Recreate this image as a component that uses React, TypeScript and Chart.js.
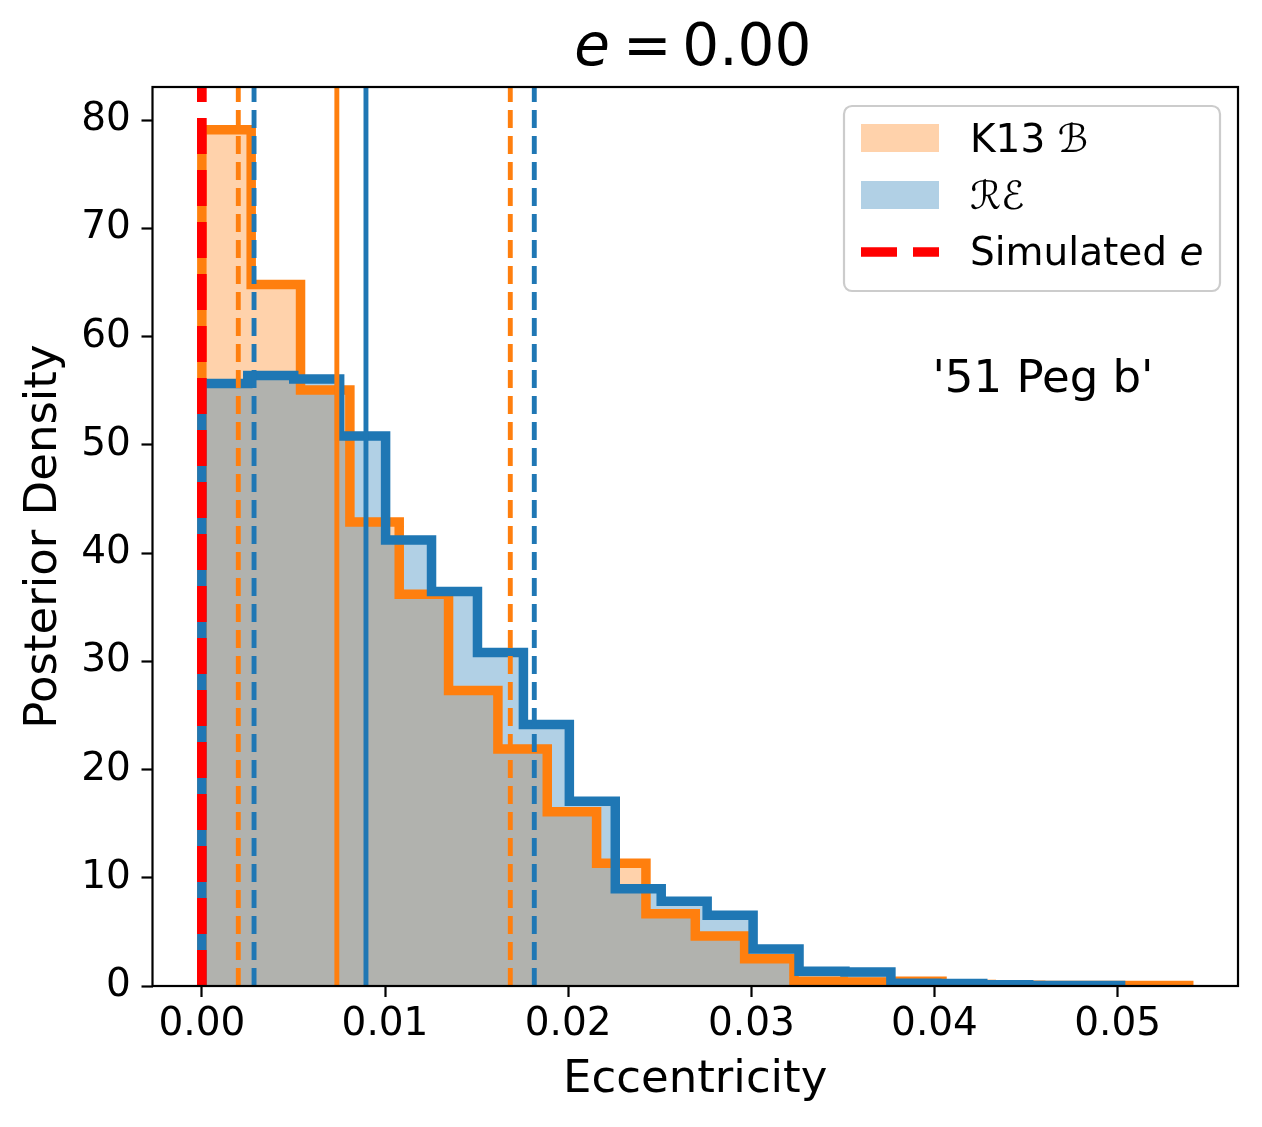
import { useEffect, useRef } from "react";
import { Chart, ChartConfiguration, Plugin, registerables } from "chart.js";

Chart.register(...registerables);

// K13 beta prior posterior: bin edges and density
const k13Edges = [
  0, 0.002694, 0.005388, 0.008082, 0.010776, 0.01347, 0.016164, 0.018858, 0.021552, 0.024246,
  0.02694, 0.029634, 0.032328, 0.035022, 0.037716, 0.04041, 0.043104, 0.045798, 0.048492,
  0.051186, 0.05388,
];
const k13Density = [
  79.1, 64.8, 55.06, 42.86, 36.2, 27.3, 21.9, 16.1, 11.33, 6.68, 4.62, 2.52, 0.43, 0.37, 0.43,
  0.15, 0.06, 0.05, 0.04, 0.04,
];

// RE prior posterior
const reEdges = [
  0, 0.002508, 0.005016, 0.007524, 0.010032, 0.01254, 0.015048, 0.017556, 0.020064, 0.022572,
  0.02508, 0.027588, 0.030096, 0.032604, 0.035112, 0.03762, 0.040128, 0.042636, 0.045144,
  0.047652, 0.05016,
];
const reDensity = [
  55.67, 56.4, 56.07, 50.8, 41.2, 36.45, 30.8, 24.15, 17.06, 8.99, 7.82, 6.53, 3.42, 1.36, 1.3,
  0.25, 0.22, 0.12, 0.04, 0.04,
];

// medians and 68% bounds
const k13Stats = [0.00199, 0.00737, 0.01684]; // lower, median, upper
const reStats = [0.00285, 0.00896, 0.01815];
const simulatedE = 0.0;

const xTicks = [0, 0.01, 0.02, 0.03, 0.04, 0.05];
const yTicks = [0, 10, 20, 30, 40, 50, 60, 70, 80];
const X_MIN = -0.002694;
const X_MAX = 0.05657;
const Y_MAX = 83.05;

const ORANGE = "#ff7f0e";
const BLUE = "#1f77b4";
const ORANGE_FILL = "rgba(255, 127, 14, 0.35)";
const BLUE_FILL = "rgba(31, 119, 180, 0.35)";
const FONT = "'DejaVu Sans'";

function stepPoints(edges: number[], density: number[]) {
  const pts = [{ x: edges[0], y: 0 }];
  density.forEach((d, i) => pts.push({ x: edges[i], y: d }));
  const last = edges[edges.length - 1];
  pts.push({ x: last, y: density[density.length - 1] });
  pts.push({ x: last, y: 0 });
  return pts;
}

function vline(x: number) {
  return [
    { x, y: 0 },
    { x, y: Y_MAX },
  ];
}

// title, frame, legend and the planet label
const decorPlugin: Plugin = {
  id: "decor",
  afterDatasetsDraw(chart) {
    const { ctx, chartArea } = chart;
    ctx.save();
    ctx.strokeStyle = "#000";
    ctx.lineWidth = 2.2;
    ctx.strokeRect(chartArea.left, chartArea.top, chartArea.right - chartArea.left, chartArea.bottom - chartArea.top);
    ctx.restore();
  },
  afterDraw(chart) {
    const { ctx, chartArea } = chart;
    const cx = (chartArea.left + chartArea.right) / 2;
    ctx.save();
    ctx.fillStyle = "#000";
    ctx.textBaseline = "alphabetic";

    // title: e = 0.00
    const ty = chartArea.top - 22;
    ctx.font = `italic 58px ${FONT}`;
    ctx.textAlign = "left";
    ctx.fillText("e", cx - 121, ty);
    ctx.font = `58px ${FONT}`;
    ctx.textAlign = "center";
    ctx.fillText("=", cx - 48, ty);
    ctx.textAlign = "left";
    ctx.fillText("0.00", cx - 13, ty);

    // planet label
    ctx.font = `45px ${FONT}`;
    ctx.fillText("'51 Peg b'", chartArea.left + 780, chartArea.top + 305);

    // legend
    const bx = chartArea.right - 394;
    const by = chartArea.top + 19;
    const bw = 376;
    const bh = 185;
    ctx.beginPath();
    ctx.roundRect(bx, by, bw, bh, 8);
    ctx.fillStyle = "rgba(255,255,255,0.8)";
    ctx.fill();
    ctx.strokeStyle = "#cccccc";
    ctx.lineWidth = 2.2;
    ctx.stroke();

    const hx = bx + 17;
    const hw = 78;
    const rows = [by + 32, by + 89, by + 146];
    ctx.fillStyle = ORANGE_FILL;
    ctx.fillRect(hx, rows[0] - 14, hw, 28);
    ctx.fillStyle = BLUE_FILL;
    ctx.fillRect(hx, rows[1] - 14, hw, 28);
    ctx.beginPath();
    ctx.setLineDash([36, 16]);
    ctx.strokeStyle = "#ff0000";
    ctx.lineWidth = 9.7;
    ctx.moveTo(hx, rows[2]);
    ctx.lineTo(hx + hw, rows[2]);
    ctx.stroke();
    ctx.setLineDash([]);

    const tx = bx + 126;
    ctx.fillStyle = "#000";
    ctx.font = `39px ${FONT}`;
    ctx.fillText("K13 ", tx, rows[0] + 14);
    const k13w = ctx.measureText("K13 ").width;
    ctx.font = `italic 39px ${FONT}`;
    ctx.fillText("\u212C", tx + k13w, rows[0] + 14);
    ctx.fillText("\u211B\u2130", tx, rows[1] + 14);
    ctx.font = `39px ${FONT}`;
    ctx.fillText("Simulated ", tx, rows[2] + 13);
    const simw = ctx.measureText("Simulated ").width;
    ctx.font = `italic 39px ${FONT}`;
    ctx.fillText("e", tx + simw, rows[2] + 13);
    ctx.restore();
  },
};

export default function App() {
  const canvasRef = useRef<HTMLCanvasElement>(null);
  const chartRef = useRef<Chart | null>(null);

  useEffect(() => {
    if (!canvasRef.current) return;
    Chart.defaults.font.family = FONT;
    Chart.defaults.color = "#000";

    const base = { pointRadius: 0, fill: false, clip: 0, stepped: "before" as const };

    const config: ChartConfiguration<"line"> = {
      type: "line",
      data: {
        datasets: [
          { ...base, label: "K13 fill", data: stepPoints(k13Edges, k13Density), borderWidth: 0, fill: "origin", backgroundColor: ORANGE_FILL, order: 8 },
          { ...base, label: "RE fill", data: stepPoints(reEdges, reDensity), borderWidth: 0, fill: "origin", backgroundColor: BLUE_FILL, order: 7 },
          { ...base, label: "K13", data: stepPoints(k13Edges, k13Density), borderColor: ORANGE, borderWidth: 9.5, order: 6 },
          { ...base, label: "RE", data: stepPoints(reEdges, reDensity), borderColor: BLUE, borderWidth: 9.5, order: 5 },
          { ...base, label: "K13 median", data: vline(k13Stats[1]), borderColor: ORANGE, borderWidth: 4.9, order: 4 },
          { ...base, label: "RE median", data: vline(reStats[1]), borderColor: BLUE, borderWidth: 4.9, order: 3 },
          { ...base, label: "K13 lo", data: vline(k13Stats[0]), borderColor: ORANGE, borderWidth: 4.9, borderDash: [18, 8], order: 2 },
          { ...base, label: "K13 hi", data: vline(k13Stats[2]), borderColor: ORANGE, borderWidth: 4.9, borderDash: [18, 8], order: 2 },
          { ...base, label: "RE lo", data: vline(reStats[0]), borderColor: BLUE, borderWidth: 4.9, borderDash: [18, 8], order: 1 },
          { ...base, label: "RE hi", data: vline(reStats[2]), borderColor: BLUE, borderWidth: 4.9, borderDash: [18, 8], order: 1 },
          { ...base, label: "Simulated e", data: vline(simulatedE), borderColor: "#ff0000", borderWidth: 9.7, borderDash: [36, 16], order: 0 },
        ],
      },
      options: {
        responsive: true,
        maintainAspectRatio: false,
        animation: false,
        events: [],
        layout: { padding: { top: 87, right: 24, bottom: 0, left: 0 } },
        plugins: {
          legend: { display: false },
          tooltip: { enabled: false },
          title: { display: false },
        },
        scales: {
          x: {
            type: "linear",
            min: X_MIN,
            max: X_MAX,
            bounds: "data",
            afterBuildTicks: (axis) => {
              axis.ticks = xTicks.map((value) => ({ value }));
            },
            afterFit: (axis) => {
              axis.height = 141;
            },
            ticks: {
              font: { size: 39 },
              color: "#000",
              padding: 4,
              maxRotation: 0,
              callback: (v) => Number(v).toFixed(2),
            },
            grid: { display: true, drawOnChartArea: false, drawTicks: true, tickLength: 11, tickWidth: 2.2, tickColor: "#000" },
            border: { display: false },
            title: { display: true, text: "Eccentricity", font: { size: 45 }, color: "#000", padding: { top: 0, bottom: 20 } },
          },
          y: {
            type: "linear",
            min: 0,
            max: Y_MAX,
            bounds: "data",
            afterBuildTicks: (axis) => {
              axis.ticks = yTicks.map((value) => ({ value }));
            },
            afterFit: (axis) => {
              axis.width = 152.5;
            },
            ticks: { font: { size: 39 }, color: "#000", padding: 10.6 },
            grid: { display: true, drawOnChartArea: false, drawTicks: true, tickLength: 11, tickWidth: 2.2, tickColor: "#000" },
            border: { display: false },
            title: { display: true, text: "Posterior Density", font: { size: 45 }, color: "#000", padding: { top: 17, bottom: 0 } },
          },
        },
      },
      plugins: [decorPlugin],
    };

    chartRef.current = new Chart(canvasRef.current, config);
    return () => {
      chartRef.current?.destroy();
      chartRef.current = null;
    };
  }, []);

  return (
    <div style={{ position: "absolute", left: 0, top: 0, width: 1262, height: 1127, background: "#fff" }}>
      <canvas ref={canvasRef} />
    </div>
  );
}
